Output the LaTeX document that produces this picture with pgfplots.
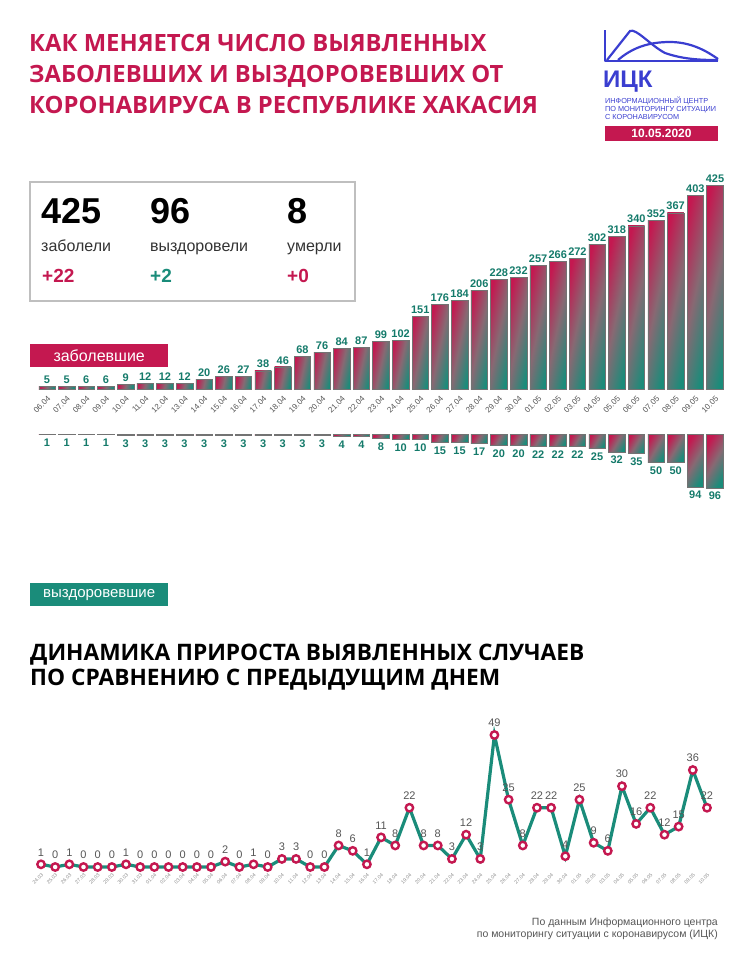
\documentclass[border=0pt]{standalone}
\usepackage{fontspec}
\setmainfont{Liberation Sans}
\newfontfamily\titlefont{Open Sans}
\usepackage{pgfplots}
\usepackage{pgfplotstable}
\pgfplotsset{compat=1.18}
\definecolor{crim}{RGB}{196,24,80}
\definecolor{tealc}{RGB}{26,140,122}
\definecolor{tealt}{RGB}{20,122,106}
\definecolor{midg}{RGB}{135,105,115}
\definecolor{logob}{RGB}{58,62,208}
\definecolor{gtxt}{RGB}{85,85,85}
% i = day index (06.04 ... 10.05), c = cases, r = recovered
\pgfplotstableread{
i c r
0 5 1
1 5 1
2 6 1
3 6 1
4 9 3
5 12 3
6 12 3
7 12 3
8 20 3
9 26 3
10 27 3
11 38 3
12 46 3
13 68 3
14 76 3
15 84 4
16 87 4
17 99 8
18 102 10
19 151 10
20 176 15
21 184 15
22 206 17
23 228 20
24 232 20
25 257 22
26 266 22
27 272 22
28 302 25
29 318 32
30 340 35
31 352 50
32 367 50
33 403 94
34 425 96
}\datatab
\begin{document}
\begin{tikzpicture}
\path[use as bounding box] (0,0) rectangle (750pt,-967pt);
% title
\begin{scope}[every node/.style={anchor=base west, inner sep=0pt, text=crim, font=\titlefont\bfseries\fontsize{23.8}{28}\selectfont}]
\node at (29pt,-51pt) {КАК МЕНЯЕТСЯ ЧИСЛО ВЫЯВЛЕННЫХ};
\node at (29pt,-82pt) {ЗАБОЛЕВШИХ И ВЫЗДОРОВЕВШИХ ОТ};
\node at (29pt,-113pt) {КОРОНАВИРУСА В РЕСПУБЛИКЕ ХАКАСИЯ};
\end{scope}
% logo
\draw[logob, line width=2.2pt, line join=round] (605pt,-30pt) -- (605pt,-61pt) -- (718pt,-61pt);
\draw[logob, line width=2.2pt] (607pt,-60pt) -- (630pt,-31pt) .. controls (636pt,-28pt) and (650pt,-45pt) .. (665pt,-53pt) .. controls (685pt,-60pt) and (705pt,-60pt) .. (718pt,-60pt);
\draw[logob, line width=2.2pt] (618pt,-60pt) .. controls (632pt,-48pt) and (648pt,-42pt) .. (670pt,-42pt) .. controls (692pt,-42pt) and (708pt,-52pt) .. (718pt,-59pt);
\node[anchor=base west, inner sep=0pt, text=logob, font=\bfseries\fontsize{24}{26}\selectfont] at (603pt,-87pt) {ИЦК};
\begin{scope}[every node/.style={anchor=base west, inner sep=0pt, text=logob, font=\fontsize{7.3}{8}\selectfont}]
\node at (605pt,-103pt) {ИНФОРМАЦИОННЫЙ ЦЕНТР};
\node at (605pt,-111.5pt) {ПО МОНИТОРИНГУ СИТУАЦИИ};
\node at (605pt,-119.5pt) {С КОРОНАВИРУСОМ};
\end{scope}
\fill[crim] (605pt,-126pt) rectangle (718pt,-141pt);
\node[text=white, font=\bfseries\fontsize{12}{13}\selectfont, inner sep=0pt] at (661.5pt,-133.5pt) {10.05.2020};
% stat box
\draw[black!25, line width=2.5pt] (30pt,-182pt) rectangle (355pt,-301pt);
\begin{scope}[every node/.style={anchor=base west, inner sep=0pt}]
\node[font=\bfseries\fontsize{36}{40}\selectfont] at (41pt,-223pt) {425};
\node[font=\bfseries\fontsize{36}{40}\selectfont] at (150pt,-223pt) {96};
\node[font=\bfseries\fontsize{36}{40}\selectfont] at (287pt,-223pt) {8};
\node[font=\fontsize{16}{18}\selectfont, text=black!80] at (41pt,-251pt) {заболели};
\node[font=\fontsize{16}{18}\selectfont, text=black!80] at (150pt,-251pt) {выздоровели};
\node[font=\fontsize{16}{18}\selectfont, text=black!80] at (287pt,-251pt) {умерли};
\node[font=\bfseries\fontsize{19}{21}\selectfont, text=crim] at (42pt,-282pt) {+22};
\node[font=\bfseries\fontsize{19}{21}\selectfont, text=tealc] at (150pt,-282pt) {+2};
\node[font=\bfseries\fontsize{19}{21}\selectfont, text=crim] at (287pt,-282pt) {+0};
\end{scope}
% labels
\node[fill=crim, minimum width=138pt, minimum height=23pt, anchor=north west, inner sep=0pt, text=white, font=\fontsize{16}{18}\selectfont] at (30pt,-344pt) {заболевшие};
\node[fill=tealc, minimum width=138pt, minimum height=23pt, anchor=north west, inner sep=0pt, text=white, font=\fontsize{15}{18}\selectfont] at (30pt,-583pt) {выздоровевшие};
% second title
\begin{scope}[every node/.style={anchor=base west, inner sep=0pt, text=black, font=\titlefont\bfseries\fontsize{22.7}{27}\selectfont}]
\node at (30pt,-660pt) {ДИНАМИКА ПРИРОСТА ВЫЯВЛЕННЫХ СЛУЧАЕВ};
\node at (30pt,-685pt) {ПО СРАВНЕНИЮ С ПРЕДЫДУЩИМ ДНЕМ};
\end{scope}
% footer
\node[anchor=base east, inner sep=0pt, text=gtxt, font=\fontsize{10.5}{12}\selectfont] at (718pt,-925pt) {По данным Информационного центра};
\node[anchor=base east, inner sep=0pt, text=gtxt, font=\fontsize{10.5}{12}\selectfont] at (718pt,-937pt) {по мониторингу ситуации с коронавирусом (ИЦК)};

% top bars: cases
\begin{axis}[at={(37.18pt,-389pt)}, anchor=south west,
  scale only axis, width=687.6pt, height=204pt,
  xmin=-0.5, xmax=34.5, ymin=0, ymax=425,
  axis line style={draw=none}, ytick=\empty,
  xtick={0,...,34},
  xticklabels={06.04,07.04,08.04,09.04,10.04,11.04,12.04,13.04,14.04,15.04,16.04,17.04,18.04,19.04,20.04,21.04,22.04,23.04,24.04,25.04,26.04,27.04,28.04,29.04,30.04,01.05,02.05,03.05,04.05,05.05,06.05,07.05,08.05,09.05,10.05},
  major tick length=0pt,
  xticklabel style={rotate=45, anchor=north east, font=\fontsize{8}{9}\selectfont, text=gtxt, inner sep=0pt},
  xticklabel shift=6pt,
  clip=false,
  /pgf/number format/assume math mode=true,
  nodes near coords,
  every node near coord/.append style={font=\bfseries\fontsize{11}{12}\selectfont, text=tealt, inner sep=2.5pt},
]
\pgfplotsinvokeforeach{0,...,34}{
\addplot[ybar, bar width=16.5pt, bar shift=0pt, draw=black!55, line width=0.5pt, top color=crim, bottom color=tealc, middle color=midg, shading angle=78, restrict expr to domain={\coordindex}{#1:#1}]
  table[x=i, y=c] {\datatab};
}
\end{axis}

% lower bars: recovered
\begin{axis}[at={(37.18pt,-434pt)}, anchor=north west,
  scale only axis, width=687.6pt, height=54pt,
  xmin=-0.5, xmax=34.5, ymin=-96, ymax=0,
  hide axis, clip=false,
  /pgf/number format/assume math mode=true,
  point meta=explicit,
  nodes near coords,
  every node near coord/.append style={font=\bfseries\fontsize{11}{12}\selectfont, text=tealt, inner sep=4pt, anchor=north},
]
\pgfplotsinvokeforeach{0,...,34}{
\addplot[ybar, bar width=16.5pt, bar shift=0pt, draw=black!55, line width=0.5pt, top color=crim, bottom color=tealc, middle color=midg, shading angle=60, restrict expr to domain={\coordindex}{#1:#1}]
  table[x=i, y expr=-\thisrow{r}, meta=r] {\datatab};
}
\end{axis}

% line chart: daily increase
\begin{axis}[at={(41pt,-867pt)}, anchor=south west,
  scale only axis, width=666pt, height=132pt,
  xmin=0, xmax=47, ymin=0, ymax=49,
  axis line style={draw=none}, ytick=\empty,
  xtick={0,...,47},
  xticklabels={24.03,25.03,26.03,27.03,28.03,29.03,30.03,31.03,01.04,02.04,03.04,04.04,05.04,06.04,07.04,08.04,09.04,10.04,11.04,12.04,13.04,14.04,15.04,16.04,17.04,18.04,19.04,20.04,21.04,22.04,23.04,24.04,25.04,26.04,27.04,28.04,29.04,30.04,01.05,02.05,03.05,04.05,05.05,06.05,07.05,08.05,09.05,10.05},
  major tick length=0pt,
  xticklabel style={rotate=45, anchor=north east, font=\fontsize{5}{6}\selectfont, text=black!45, inner sep=0pt},
  xticklabel shift=6pt,
  clip=false,
  /pgf/number format/assume math mode=true,
  nodes near coords,
  every node near coord/.append style={font=\fontsize{11}{12}\selectfont, text=gtxt, anchor=south, inner sep=1pt, yshift=6pt},
]
\addplot[tealc, line width=3.2pt, mark=*, mark size=3.7pt, mark options={fill=white, draw=crim, line width=2.4pt}]
coordinates {(0,1) (1,0) (2,1) (3,0) (4,0) (5,0) (6,1) (7,0) (8,0) (9,0) (10,0) (11,0) (12,0) (13,2) (14,0) (15,1) (16,0) (17,3) (18,3) (19,0) (20,0) (21,8) (22,6) (23,1) (24,11) (25,8) (26,22) (27,8) (28,8) (29,3) (30,12) (31,3) (32,49) (33,25) (34,8) (35,22) (36,22) (37,4) (38,25) (39,9) (40,6) (41,30) (42,16) (43,22) (44,12) (45,15) (46,36) (47,22)};
\end{axis}
\end{tikzpicture}
\end{document}
